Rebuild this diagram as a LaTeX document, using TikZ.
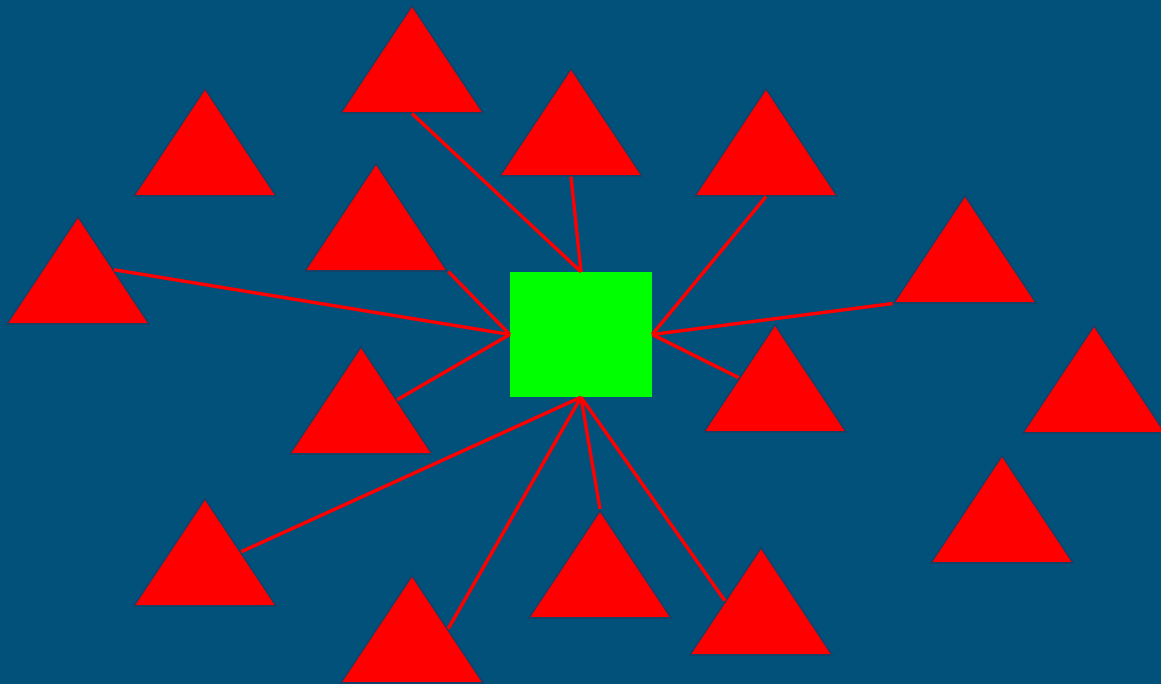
\documentclass[tikz,border=0pt]{standalone}
\usetikzlibrary{shapes.geometric,calc}
\definecolor{bgblue}{HTML}{01517B}
\definecolor{triline}{HTML}{1B3E62}
\definecolor{sqgreen}{HTML}{00FF00}
\begin{document}
\begin{tikzpicture}[x=1pt,y=-1pt,
  tri/.style={isosceles triangle,isosceles triangle stretches,shape border rotate=90,
    minimum width=142pt,minimum height=107pt,inner sep=0pt,fill=red,draw=triline,
    line width=1.4pt,anchor=apex},
  hub/.style={rectangle,fill=sqgreen,minimum width=142pt,minimum height=125pt,inner sep=0pt},
  link/.style={draw=red,line width=3.4pt}]
\fill[bgblue] (0,0) rectangle (1161,684);
\useasboundingbox (0,0) rectangle (1161,684);
\node[hub] (S) at (581,334.5) {};
\node[tri] (T1) at (412,4) {};
\node[tri] (T2) at (205,87) {};
\node[tri] (T3) at (571,67) {};
\node[tri] (T4) at (766,87) {};
\node[tri] (T5) at (376,162) {};
\node[tri] (T6) at (78,215) {};
\node[tri] (T7) at (965,194) {};
\node[tri] (T8) at (775,323) {};
\node[tri] (T9) at (1094,324) {};
\node[tri] (T10) at (361,345) {};
\node[tri] (T11) at (1002,454) {};
\node[tri] (T12) at (205,497) {};
\node[tri] (T13) at (600,509) {};
\node[tri] (T14) at (761,546) {};
\node[tri] (T15) at (412,574) {};
\draw[link] (T1.lower side) -- (S.north);
\draw[link] (T3.lower side) -- (S.north);
\draw[link] (T4.lower side) -- (S.east);
\draw[link] (T5.right corner) -- (S.west);
\draw[link] (T6.right side) -- (S.west);
\draw[link] (T7.left corner) -- (S.east);
\draw[link] (T8.left side) -- (S.east);
\draw[link] (T10.right side) -- (S.west);
\draw[link] (T12.right side) -- (S.south);
\draw[link] (T15.right side) -- (S.south);
\draw[link] (T13.apex) -- (S.south);
\draw[link] (T14.left side) -- (S.south);
\end{tikzpicture}
\end{document}
